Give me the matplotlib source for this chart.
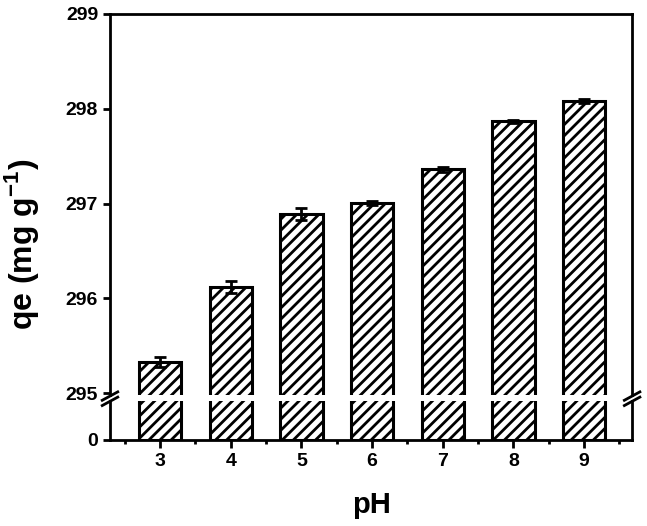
import matplotlib
matplotlib.use('Agg')
import matplotlib.pyplot as plt
from matplotlib.ticker import MultipleLocator

plt.rcParams['font.family'] = ['Liberation Sans', 'DejaVu Sans']
plt.rcParams['font.weight'] = 'bold'
plt.rcParams['mathtext.fontset'] = 'custom'
plt.rcParams['mathtext.rm'] = 'Liberation Sans:bold'
plt.rcParams['mathtext.bf'] = 'Liberation Sans:bold'
plt.rcParams['hatch.linewidth'] = 2.0
plt.rcParams['hatch.color'] = 'black'

ph = [3, 4, 5, 6, 7, 8, 9]
qe = [295.33, 296.12, 296.89, 297.01, 297.36, 297.87, 298.08]
err = [0.05, 0.06, 0.06, 0.02, 0.03, 0.015, 0.02]
upper_ticks = [295, 296, 297, 298, 299]

fig = plt.figure(figsize=(6.47, 5.26), dpi=100)
ax_top = fig.add_axes([0.170, 0.249, 0.807, 0.7244])
ax_bot = fig.add_axes([0.170, 0.1635, 0.807, 0.0741])

for ax in (ax_top, ax_bot):
    ax.bar(ph, qe, width=0.6, color='white', edgecolor='black',
           linewidth=2.2, hatch='///', zorder=2)
    ax.errorbar(ph, qe, yerr=err, fmt='none', ecolor='black',
                elinewidth=2, capsize=4, capthick=2, zorder=3)
    ax.set_xlim(2.29, 9.68)
    for s in ax.spines.values():
        s.set_linewidth(2)
    ax.tick_params(width=2, length=5, labelsize=14)
    ax.tick_params(which='minor', width=2, length=3)

ax_top.set_ylim(294.98, 299)
ax_top.set_yticks(upper_ticks)
ax_top.spines['bottom'].set_visible(False)
ax_top.tick_params(axis='x', bottom=False, labelbottom=False)

ax_bot.set_ylim(0, 10)
ax_bot.set_yticks([0])
ax_bot.spines['top'].set_visible(False)
ax_bot.set_xticks(ph)
ax_bot.xaxis.set_minor_locator(MultipleLocator(0.5))
ax_bot.tick_params(axis='x', which='major', length=6)
ax_bot.set_xlabel('pH', fontsize=21, fontweight='bold', labelpad=15)

fig.text(0.034, 0.536, r'qe (mg g$^{\mathbf{-1}}$)', rotation=90,
         fontsize=23, fontweight='bold', ha='center', va='center')

# break marks on both sides
for xf in (0.170, 0.977):
    for dy in (-0.006, 0.004):
        y0 = 0.243 + dy
        fig.add_artist(plt.Line2D([xf - 0.012, xf + 0.012], [y0 - 0.008, y0 + 0.008],
                                  color='black', linewidth=2,
                                  transform=fig.transFigure))

fig.savefig('out.png', dpi=100)
